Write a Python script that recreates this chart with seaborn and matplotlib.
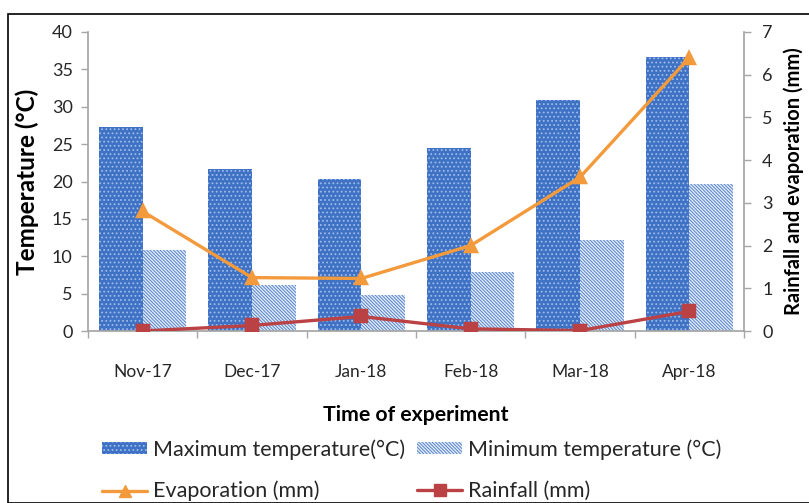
import matplotlib
matplotlib.use("Agg")
import matplotlib.pyplot as plt
from matplotlib.patches import Rectangle, Patch
from matplotlib.lines import Line2D
import seaborn as sns
import pandas as pd

months = ["Nov-17", "Dec-17", "Jan-18", "Feb-18", "Mar-18", "Apr-18"]
max_temp = [27.3, 21.7, 20.3, 24.5, 30.9, 36.7]
min_temp = [10.8, 6.2, 4.8, 7.9, 12.2, 19.7]
evaporation = [2.8, 1.25, 1.23, 2.0, 3.6, 6.4]
rainfall = [0.0, 0.13, 0.34, 0.05, 0.01, 0.46]

max_label = "Maximum temperature(°C)"
min_label = "Minimum temperature (°C)"
evap_label = "Evaporation (mm)"
rain_label = "Rainfall (mm)"

sns.set_theme(style="white")
plt.rcParams["font.family"] = ["Lato", "DejaVu Sans"]
plt.rcParams["hatch.linewidth"] = 0.8

temps = pd.DataFrame({
    "month": months * 2,
    "value": max_temp + min_temp,
    "series": [max_label] * len(months) + [min_label] * len(months),
})

fig = plt.figure(figsize=(8.09, 5.03), dpi=100)
ax = fig.add_axes([88 / 809, 1 - 331 / 503, (744 - 88) / 809, (331 - 32) / 503])

max_color = "#3f72c4"
max_dots = "#9dbbe9"
min_face = "#eaf0f9"
min_hatch = "#5f8bd0"
dots_hatch = "...."
lines_hatch = "\\" * 10
evap_color = "#f29a3c"
rain_color = "#bb4244"
grey = "#a6a6a6"
text_color = "#262626"

sns.barplot(data=temps, x="month", y="value", hue="series", ax=ax,
            order=months, hue_order=[max_label, min_label],
            width=0.8, gap=0, legend=False, saturation=1)

for bar in ax.containers[0]:
    bar.set_facecolor(max_color)
    bar.set_edgecolor(max_dots)
    bar.set_hatch(dots_hatch)
    bar.set_linewidth(0)
for bar in ax.containers[1]:
    bar.set_facecolor(min_face)
    bar.set_edgecolor(min_hatch)
    bar.set_hatch(lines_hatch)
    bar.set_linewidth(0)

ax.set_ylim(0, 40)
ax.set_xlim(-0.5, 5.5)
ax.set_yticks(range(0, 41, 5))
ax.set_xlabel("Time of experiment", fontsize=15.3, fontweight="bold", color="black", labelpad=18)
ax.set_ylabel("Temperature (°C)", fontsize=17.5, fontweight="bold", color="black", labelpad=9)

ax2 = ax.twinx()
sns.pointplot(x=months, y=evaporation, ax=ax2, color=evap_color, markers="^",
              markersize=9, linewidth=2.4, order=months)
sns.pointplot(x=months, y=rainfall, ax=ax2, color=rain_color, markers="s",
              markersize=8, linewidth=2.4, order=months)
ax2.set_ylim(0, 7)
ax2.set_xlim(-0.5, 5.5)
ax2.set_yticks(range(0, 8))
ax2.set_ylabel("Rainfall and evaporation (mm)", fontsize=14.5, fontweight="bold",
               color="black", labelpad=8)

for a in (ax, ax2):
    a.spines["top"].set_visible(False)
    a.tick_params(axis="y", length=5, width=1, color=grey, labelsize=13,
                  labelcolor=text_color, pad=6)
ax2.tick_params(axis="y", pad=8)
ax.spines["right"].set_visible(False)
ax2.spines["left"].set_visible(False)
ax2.spines["bottom"].set_visible(False)
ax.spines["left"].set_color(grey)
ax.spines["bottom"].set_color(grey)
ax2.spines["right"].set_color(grey)
ax.tick_params(axis="y", left=True, right=False)
ax2.tick_params(axis="y", right=True, left=False)

# x ticks sit between the month groups
ax.set_xticks([i + 0.5 for i in range(-1, 6)], minor=True)
ax.tick_params(axis="x", which="minor", bottom=True, length=5, color=grey, width=1)
ax.tick_params(axis="x", which="major", bottom=False, labelsize=12.5,
               labelcolor=text_color, pad=18)
ax.set_zorder(0)
ax2.set_zorder(1)

handles = [
    Patch(facecolor=max_color, edgecolor=max_dots, hatch=dots_hatch, linewidth=0),
    Line2D([], [], color=evap_color, marker="^", markersize=9, linewidth=2.4),
    Patch(facecolor=min_face, edgecolor=min_hatch, hatch=lines_hatch, linewidth=0),
    Line2D([], [], color=rain_color, marker="s", markersize=8, linewidth=2.4),
]
fig.legend(handles, [max_label, evap_label, min_label, rain_label], ncol=2,
           loc="upper left", bbox_to_anchor=(102 / 809, 1 - 439 / 503),
           frameon=False, fontsize=15.5, handlelength=2.1, handleheight=0.45,
           handletextpad=0.28, columnspacing=0.55, labelspacing=0.98,
           borderpad=0, borderaxespad=0, labelcolor=text_color)

fig.patches.append(Rectangle((8 / 809, 0), 2, 1 - 14 / 503, transform=fig.transFigure,
                             fill=False, edgecolor="black", linewidth=1.2))

fig.savefig("out.png", dpi=100)
